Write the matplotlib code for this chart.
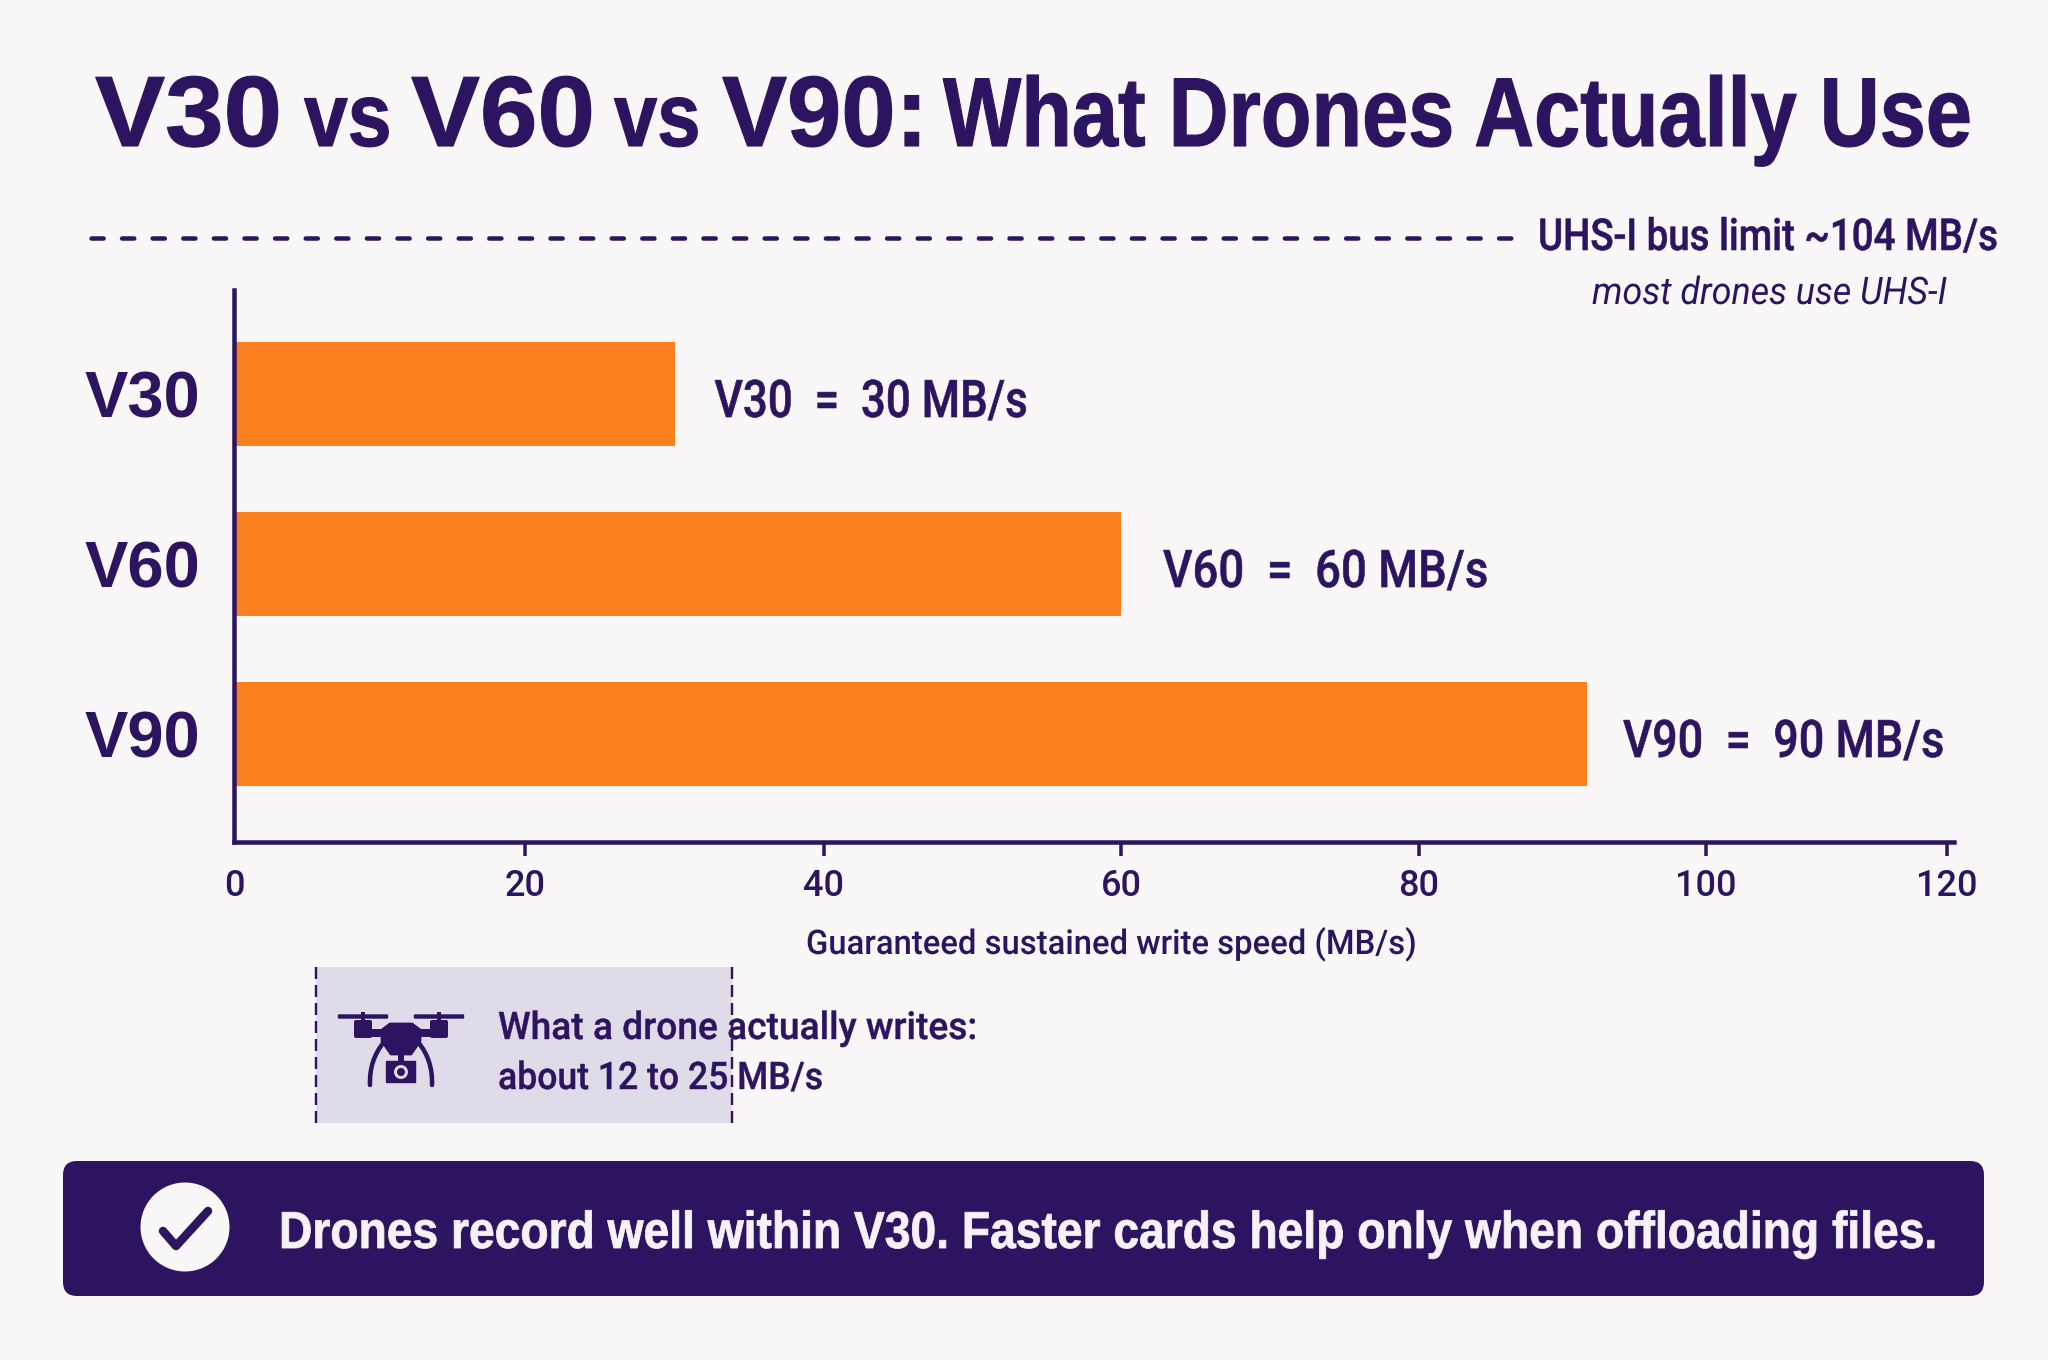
#!/usr/bin/env python3
"""
SD card speed classes vs what drones actually write
Horizontal bars of guaranteed sustained write speed with callouts
"""

import numpy as np
import matplotlib
matplotlib.use("Agg")
import matplotlib.pyplot as plt
from matplotlib.font_manager import FontProperties
import matplotlib.patheffects as pe
from matplotlib.patches import Rectangle, FancyBboxPatch, Circle, Polygon, PathPatch
from matplotlib.path import Path
from matplotlib.textpath import TextPath
from matplotlib.transforms import Affine2D

classes = ["V30", "V60", "V90"]
write_speeds = [30, 60, 90]
speed_labels = ["V30  =  30 MB/s", "V60  =  60 MB/s", "V90  =  90 MB/s"]
x_ticks = [0, 20, 40, 60, 80, 100, 120]

INK = "#2d1460"
ORANGE = "#fb7f1e"
BG = "#f9f7f8"
BAND = "#e0dbe9"
SANS = "Liberation Sans"
LABEL = "Roboto"
DPI = 200
W, H = 2048, 1360

# hand-spaced axis: value -> pixel column
SCALE_VALUES = [0, 20, 40, 60, 80, 90, 100, 120, 130]
SCALE_PIXELS = [234, 525, 824, 1121, 1419, 1587, 1706, 1947, 2067]


def forward(v):
    return np.interp(v, SCALE_VALUES, SCALE_PIXELS)


def inverse(p):
    return np.interp(p, SCALE_PIXELS, SCALE_VALUES)


def px(n):
    """Pixels to points at the output resolution"""
    return n * 72 / DPI


class Heightened(pe.AbstractPathEffect):
    """Stretch a text line upward from its baseline, no condensed face being installed"""

    def __init__(self, factor, stroke=0.0):
        super().__init__()
        self.factor = factor
        self.stroke = stroke

    def draw_path(self, renderer, gc, tpath, affine, rgbFace=None):
        y = affine.get_matrix()[1, 2]
        stretched = affine + Affine2D().translate(0, -y).scale(1, self.factor).translate(0, y)
        gc0 = renderer.new_gc()
        gc0.copy_properties(gc)
        if self.stroke:
            gc0.set_foreground(rgbFace)
            gc0.set_linewidth(self.stroke)
        renderer.draw_path(gc0, tpath, stretched, rgbFace)
        gc0.restore()


def condensed(s, width, size_px, family, weight="normal", style="normal", stroke=0.0):
    """Font size and path effect giving s the height of size_px but only width pixels across"""
    fp = FontProperties(family=family, weight=weight, style=style)
    measured = TextPath((0, 0), s, size=size_px, prop=fp).get_extents().width
    ratio = width / measured
    return px(size_px * ratio), [Heightened(1 / ratio, stroke)]


def fitted_text(bg, x0, x1, baseline, s, size_px, family=LABEL, weight="normal", style="normal",
                color=INK, stroke=0.0):
    """Left-aligned text of a given height condensed to span x0..x1"""
    size, effects = condensed(s, x1 - x0, size_px, family, weight, style, stroke)
    return bg.text(x0, baseline, s, fontsize=size, family=family, weight=weight, style=style,
                   color=color, ha="left", va="baseline", path_effects=effects)


def draw_drone(bg, cx):
    """Small quadcopter icon with a camera under the body"""
    for sx in (-1, 1):
        # rotor blade, shaft and motor
        bg.add_patch(FancyBboxPatch((cx + sx * 38 - 24, 1015.5), 48, 2, boxstyle="round,pad=1.2",
                                    fc=INK, ec="none"))
        bg.add_patch(Rectangle((cx + sx * 38 - 2, 1012), 4, 12, fc=INK, ec="none"))
        bg.add_patch(FancyBboxPatch((cx + sx * 38 - 7, 1022), 14, 14, boxstyle="round,pad=2",
                                    fc=INK, ec="none"))
        # landing leg
        verts = [(cx + sx * 17, 1042), (cx + sx * 32, 1060), (cx + sx * 31, 1085)]
        bg.add_patch(PathPatch(Path(verts, [Path.MOVETO, Path.CURVE3, Path.CURVE3]), fc="none",
                               ec=INK, lw=px(4.5), capstyle="round"))
    bg.add_patch(Rectangle((cx - 38, 1029), 76, 8, fc=INK, ec="none"))
    body = [(cx - 19, 1030), (cx - 11, 1024), (cx + 11, 1024), (cx + 19, 1030),
            (cx + 19, 1041), (cx + 10, 1054), (cx - 10, 1054), (cx - 19, 1041)]
    bg.add_patch(Polygon(body, closed=True, fc=INK, ec=INK, lw=1, joinstyle="round"))
    # camera
    bg.add_patch(Rectangle((cx - 3, 1052), 6, 10, fc=INK, ec="none"))
    bg.add_patch(FancyBboxPatch((cx - 14, 1062), 28, 20, boxstyle="round,pad=1.2", fc=INK, ec="none"))
    bg.add_patch(Circle((cx, 1072), 7, fc=BAND, ec="none"))
    bg.add_patch(Circle((cx, 1072), 4, fc=INK, ec="none"))


def main():
    fig = plt.figure(figsize=(W / DPI, H / DPI), dpi=DPI, facecolor=BG)

    # full-figure layer in pixel coordinates for the annotation furniture
    bg = fig.add_axes([0, 0, 1, 1])
    bg.set_xlim(0, W)
    bg.set_ylim(H, 0)
    bg.axis("off")

    # title runs at two sizes, the class names larger than "vs"
    title_parts = [("V30", 95, 277, 100), ("vs", 304, 388, 90), ("V60", 411, 590, 100),
                   ("vs", 614, 697, 90), ("V90:", 722, 918, 100),
                   ("What Drones Actually Use", 943, 1969, 98)]
    for s, x0, x1, size in title_parts:
        fitted_text(bg, x0, x1, 146, s, size, family=SANS, weight="bold", stroke=0.4)

    # plot area
    ax = fig.add_axes([234 / W, 1 - 842 / H, (1954 - 234) / W, (842 - 290) / H])
    ax.patch.set_alpha(0)
    ax.set_xscale("function", functions=(forward, inverse))
    ax.set_xlim(0, inverse(1954))
    ax.set_ylim(2.635, -0.612)

    y_pos = np.arange(len(classes))
    ax.barh(y_pos, write_speeds, height=0.612, color=ORANGE, edgecolor="none", zorder=2)

    for spine in ("top", "right"):
        ax.spines[spine].set_visible(False)
    for spine in ("left", "bottom"):
        ax.spines[spine].set_color(INK)
        ax.spines[spine].set_linewidth(px(4.5))
        ax.spines[spine].set_zorder(3)

    ax.set_xticks(x_ticks)
    ax.set_xticklabels([str(v) for v in x_ticks], fontsize=px(36), family=LABEL, weight="medium", color=INK)
    ax.xaxis.set_minor_locator(plt.NullLocator())
    ax.tick_params(axis="x", length=px(14), width=px(3.5), color=INK, pad=px(13))
    ax.xaxis.get_major_ticks()[0].tick1line.set_visible(False)

    ax.set_yticks(y_pos)
    ax.set_yticklabels(classes, fontsize=px(65), family=SANS, weight="bold", color=INK)
    ax.tick_params(axis="y", length=0, pad=px(34))

    xlabel = "Guaranteed sustained write speed (MB/s)"
    xlabel_size, xlabel_fx = condensed(xlabel, 607, 34, LABEL, "medium")
    ax.set_xlabel(xlabel, fontsize=xlabel_size, family=LABEL, weight="medium", color=INK, ha="left",
                  va="baseline", path_effects=xlabel_fx)
    ax.xaxis.set_label_coords((806 - 234) / (1954 - 234), (842 - 954) / (842 - 290))

    # value labels just past the bar ends
    label_gaps = [40, 42, 36]
    label_widths = [311, 323, 319]
    for i, (v, text) in enumerate(zip(write_speeds, speed_labels)):
        size, effects = condensed(text, label_widths[i], 52, LABEL, "medium", stroke=0.2)
        ax.annotate(text, xy=(v, i), xytext=(px(label_gaps[i]), px(-23)), textcoords="offset points",
                    fontsize=size, family=LABEL, weight="medium", color=INK, ha="left", va="baseline",
                    path_effects=effects)

    # bus limit reference line
    bg.plot([91, 1514], [238, 238], color=INK, lw=px(4.5), dashes=(2.7, 4.1), dash_capstyle="round")
    fitted_text(bg, 1538, 1994, 250, "UHS-I bus limit ~104 MB/s", 44, weight="medium", stroke=0.2)
    fitted_text(bg, 1592, 1946, 304, "most drones use UHS-I", 38, style="italic")

    # actual-write callout band
    bg.add_patch(Rectangle((316, 967), 416, 156, fc=BAND, ec="none"))
    for x in (316, 732):
        bg.plot([x, x], [967, 1123], color=INK, lw=px(2.4), dashes=(5, 2.5))
    draw_drone(bg, 401)
    fitted_text(bg, 498, 974, 1039, "What a drone actually writes:", 38, weight="medium", stroke=0.15)
    fitted_text(bg, 498, 820, 1089, "about 12 to 25 MB/s", 38, weight="medium", stroke=0.15)

    # takeaway banner with check mark
    bg.add_patch(FancyBboxPatch((63, 1161), 1921, 135, boxstyle="round,pad=0,rounding_size=14",
                                fc=INK, ec="none"))
    bg.add_patch(Circle((185, 1227), 44.5, fc=BG, ec="none"))
    bg.plot([163, 176, 208], [1231, 1246, 1211], color=INK, lw=px(8.5),
            solid_capstyle="round", solid_joinstyle="round")
    fitted_text(bg, 279, 1931, 1248, "Drones record well within V30. Faster cards help only when offloading files.",
                52, family=SANS, weight="bold", color="#f5f2f8", stroke=0.3)

    fig.savefig("out.png", dpi=DPI, facecolor=BG)
    plt.close(fig)


if __name__ == "__main__":
    main()
